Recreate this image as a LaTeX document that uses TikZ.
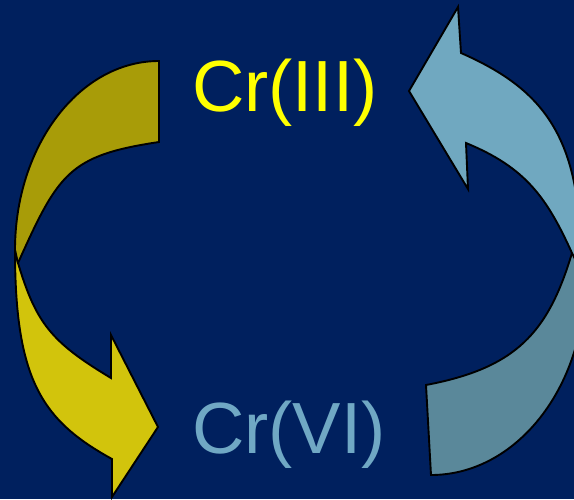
\documentclass[tikz,border=0pt]{standalone}
\usepackage{fontspec}
\setmainfont{Liberation Sans}
\definecolor{navybg}{RGB}{0,32,94}
\definecolor{oliveback}{RGB}{168,156,8}
\definecolor{yellowfront}{RGB}{210,196,12}
\definecolor{blueback}{RGB}{90,136,154}
\definecolor{bluefront}{RGB}{112,168,192}
\definecolor{crthree}{RGB}{255,255,0}
\definecolor{crsix}{RGB}{112,168,196}
\begin{document}
\begin{tikzpicture}[x=1pt,y=-1pt,
  band/.style={draw=black,line width=1.9pt,line join=miter},
  label/.style={inner sep=0pt,anchor=base west,font=\fontsize{72.5}{86}\selectfont}]
\useasboundingbox (0,0) rectangle (574,499);
\fill[navybg] (0,0) rectangle (574,499);
\clip (0,0) rectangle (574,499);

% left curved arrow: back band (upper part)
\draw[band,fill=oliveback]
  (159,61) .. controls (79.5,61) and (15,145.6) .. (15,250)
  -- (15.5,263) -- (18,263)
  .. controls (58.5,173) and (69,155.5) .. (159,142) -- cycle;
% left curved arrow: front band with head
\draw[band,fill=yellowfront]
  (15,250) .. controls (15,380) and (42,420.5) .. (112,459)
  -- (112,497) -- (158,427) -- (111,335) -- (111,378)
  .. controls (51,342) and (36,323) .. (18,263) -- cycle;

% right curved arrow: back band (lower part)
\draw[band,fill=blueback]
  (426,385) -- (431,475)
  .. controls (516,475) and (585,388) .. (585,280)
  -- (577,236) -- (572,253)
  .. controls (548,333) and (516,367.9) .. (426,385) -- cycle;
% right curved arrow: front band with head
\draw[band,fill=bluefront]
  (409,91) -- (458,7) -- (461,53)
  .. controls (536,86) and (580,130) .. (580,250)
  -- (576,261) -- (572,253)
  .. controls (547,198) and (526,167.6) .. (466,143)
  -- (468,189) -- cycle;

% species labels
\node[label,text=crthree] (cr3) at (192,111) {Cr(III)};
\node[label,text=crsix] (cr6) at (192,453) {Cr(VI)};
\end{tikzpicture}
\end{document}
